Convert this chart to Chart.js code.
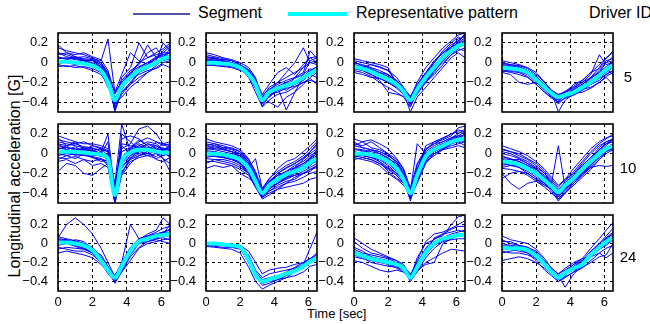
<!DOCTYPE html>
<html>
<head>
<meta charset="utf-8">
<script src="https://cdn.jsdelivr.net/npm/chart.js@4.4.1/dist/chart.umd.min.js"></script>
<style>
  body { margin: 0; background: #fff; }
  #wrap { position: relative; width: 650px; height: 324px; overflow: hidden;
          font-family: "Liberation Sans", Arial, sans-serif; color: #000; }
  #wrap canvas { position: absolute; }
  .txt { position: absolute; white-space: nowrap; line-height: 1; }
</style>
</head>
<body>
<div id="wrap">
  <div class="txt" style="left:133px;top:13px;width:57px;height:1.5px;background:#5252a6"></div>
  <div class="txt" style="left:198px;top:5px;font-size:16px">Segment</div>
  <div class="txt" style="left:288px;top:12px;width:59px;height:4px;background:#00ffff"></div>
  <div class="txt" style="left:356px;top:5px;font-size:16px">Representative pattern</div>
  <div class="txt" style="left:589px;top:5px;font-size:16px">Driver ID</div>
  <div class="txt" style="left:15px;top:176px;font-size:16px;transform:translate(-50%,-50%) rotate(-90deg)">Longitudinal acceleration [G]</div>
  <div class="txt" style="left:307px;top:307px;font-size:13px">Time [sec]</div>
</div>
<script>
// time axis shared by every trace [sec]
const times = [0, 0.5, 1, 1.5, 2, 2.5, 2.9, 3.3, 3.7, 4.2, 4.7, 5.2, 5.7, 6.1, 6.5];
const driverIds = ['5', '10', '24'];
const xTickValues = [0, 2, 4, 6];
const yTickValues = [-0.4, -0.2, 0, 0.2];

// driver 5
const pattern5a = [0.01,0.01,0.0,-0.01,-0.03,-0.08,-0.2,-0.38,-0.24,-0.15,-0.08,-0.04,0.0,0.04,0.06];
const segments5a = [
  [0.15,0.12,0.1,0.08,0.05,0.0,-0.12,-0.45,-0.3,-0.2,-0.1,-0.02,0.05,0.12,0.18],
  [0.05,0.04,0.06,0.03,0.02,-0.02,-0.15,-0.5,-0.28,-0.12,0.0,0.05,0.08,0.1,0.1],
  [-0.04,-0.03,-0.05,-0.04,-0.06,-0.1,-0.25,-0.35,-0.3,-0.22,-0.15,-0.1,-0.05,0.0,0.02],
  [0.1,0.08,0.05,0.06,0.04,0.02,0.24,-0.3,-0.2,-0.1,0.0,0.18,0.05,0.06,0.1],
  [0.02,0.0,-0.02,0.0,-0.02,-0.06,-0.18,-0.42,-0.15,-0.05,0.2,0.05,0.1,0.14,0.2],
  [-0.02,-0.04,-0.03,-0.05,-0.08,-0.12,-0.22,-0.4,-0.35,-0.25,-0.18,-0.1,-0.03,0.04,0.08],
  [0.08,0.1,0.06,0.04,0.03,0.0,-0.1,-0.3,-0.12,0.1,0.02,-0.02,0.02,0.2,0.12],
  [0.0,0.02,0.01,-0.02,-0.01,-0.05,-0.2,-0.48,-0.22,-0.16,-0.12,-0.08,-0.06,-0.02,-0.05],
  [0.04,0.05,0.03,0.02,0.0,-0.04,-0.16,-0.36,-0.26,-0.14,-0.05,0.0,0.04,0.08,0.06],
  [0.18,0.1,0.08,0.1,0.06,0.03,-0.08,-0.32,-0.18,-0.08,-0.02,0.1,0.15,0.05,0.14],
  [0.06,0.03,0.05,0.02,0.03,-0.02,-0.12,-0.42,-0.25,-0.1,-0.04,0.0,0.06,0.08,0.1],
  [-0.02,0.02,0.0,0.02,-0.02,-0.06,-0.22,-0.46,-0.32,-0.22,-0.1,-0.06,0.0,0.02,0.04],
  [0.1,0.06,0.04,0.02,0.02,-0.04,-0.14,-0.38,-0.2,-0.12,-0.06,-0.02,0.04,0.1,0.16]
];
const pattern5b = [0.0,0.0,-0.01,-0.02,-0.05,-0.12,-0.22,-0.38,-0.3,-0.26,-0.23,-0.2,-0.15,-0.11,-0.07];
const segments5b = [
  [0.08,0.06,0.04,0.02,-0.02,-0.08,-0.18,-0.35,-0.25,-0.2,-0.15,-0.1,-0.05,0.0,0.02],
  [0.02,0.0,0.0,-0.03,-0.06,-0.15,-0.3,-0.45,-0.38,-0.32,-0.3,-0.25,-0.2,-0.18,-0.2],
  [-0.02,-0.03,-0.04,-0.05,-0.08,-0.1,-0.2,-0.36,-0.4,-0.45,-0.35,-0.3,-0.22,-0.15,-0.1],
  [0.1,0.08,0.05,0.03,0.0,-0.05,-0.15,-0.4,-0.28,-0.2,-0.1,0.0,0.15,0.0,-0.02],
  [0.04,0.02,0.01,-0.01,-0.04,-0.1,-0.25,-0.42,-0.33,-0.28,-0.25,-0.15,-0.05,0.05,0.06],
  [0.0,-0.01,-0.02,-0.04,-0.06,-0.14,-0.26,-0.38,-0.35,-0.25,-0.28,-0.22,-0.18,-0.12,-0.15],
  [0.06,0.05,0.02,0.0,-0.03,-0.09,-0.2,-0.32,-0.22,-0.1,-0.05,-0.12,-0.02,0.05,0.0],
  [-0.01,-0.02,-0.02,-0.03,-0.07,-0.12,-0.24,-0.4,-0.32,-0.3,-0.26,-0.24,-0.2,-0.16,-0.22],
  [0.03,0.02,0.0,-0.01,-0.04,-0.11,-0.22,-0.37,-0.3,-0.25,-0.48,-0.3,-0.15,-0.08,-0.05],
  [0.05,0.04,0.03,0.02,-0.02,-0.07,-0.16,-0.33,-0.27,-0.22,-0.18,-0.15,-0.1,0.12,0.04],
  [0.06,0.04,0.02,0.0,-0.04,-0.12,-0.26,-0.4,-0.35,-0.28,-0.24,-0.2,-0.14,-0.08,-0.04],
  [-0.03,-0.02,-0.03,-0.04,-0.06,-0.13,-0.24,-0.44,-0.34,-0.28,-0.2,-0.22,-0.12,0.02,0.05],
  [0.02,0.03,0.01,-0.01,-0.03,-0.08,-0.18,-0.36,-0.28,-0.24,-0.2,-0.16,-0.12,-0.06,-0.1]
];
const pattern5c = [-0.04,-0.06,-0.09,-0.13,-0.17,-0.22,-0.29,-0.38,-0.27,-0.15,-0.05,0.05,0.12,0.17,0.19];
const segments5c = [
  [0.02,0.0,-0.02,-0.05,-0.08,-0.15,-0.25,-0.35,-0.2,-0.05,0.05,0.15,0.22,0.28,0.3],
  [-0.08,-0.1,-0.14,-0.2,-0.25,-0.3,-0.35,-0.45,-0.3,-0.18,-0.08,0.0,0.08,0.12,0.15],
  [-0.02,-0.05,-0.02,-0.04,-0.08,-0.2,-0.28,-0.4,-0.32,-0.2,-0.1,0.02,0.1,0.2,0.25],
  [-0.05,-0.08,-0.12,-0.18,-0.3,-0.32,-0.34,-0.36,-0.22,-0.1,0.0,0.1,0.18,0.22,0.28],
  [0.0,-0.03,-0.06,-0.1,-0.12,-0.18,-0.26,-0.38,-0.28,-0.2,-0.12,-0.02,0.08,0.14,0.12],
  [-0.1,-0.12,-0.15,-0.16,-0.2,-0.25,-0.3,-0.5,-0.35,-0.25,-0.15,-0.05,0.05,0.1,0.05],
  [-0.04,-0.06,-0.08,-0.1,-0.14,-0.18,-0.26,-0.34,-0.24,-0.12,0.0,0.12,0.2,0.26,0.22],
  [0.04,0.02,0.0,-0.02,-0.05,-0.22,-0.3,-0.42,-0.3,-0.16,-0.06,0.06,0.15,0.2,0.3],
  [-0.06,-0.08,-0.1,-0.14,-0.18,-0.24,-0.32,-0.4,-0.26,-0.14,-0.02,0.06,0.14,0.18,0.2],
  [-0.03,-0.05,-0.07,-0.12,-0.16,-0.2,-0.28,-0.36,-0.3,-0.2,-0.08,0.02,0.1,0.16,0.18],
  [-0.02,-0.04,-0.08,-0.12,-0.16,-0.22,-0.3,-0.42,-0.28,-0.14,-0.04,0.08,0.16,0.24,0.26],
  [-0.06,-0.08,-0.12,-0.16,-0.2,-0.26,-0.32,-0.38,-0.24,-0.1,0.02,0.1,0.16,0.2,0.22],
  [0.0,-0.02,-0.05,-0.08,-0.12,-0.2,-0.27,-0.44,-0.3,-0.18,-0.06,0.04,0.12,0.22,0.28]
];
const pattern5d = [-0.05,-0.06,-0.07,-0.1,-0.17,-0.25,-0.31,-0.35,-0.33,-0.3,-0.25,-0.2,-0.13,-0.07,-0.03];
const segments5d = [
  [0.0,-0.02,-0.03,-0.06,-0.12,-0.2,-0.28,-0.32,-0.3,-0.26,-0.2,-0.15,-0.05,0.05,0.1],
  [-0.08,-0.1,-0.12,-0.15,-0.22,-0.3,-0.36,-0.4,-0.36,-0.33,-0.28,-0.22,-0.18,-0.12,-0.08],
  [-0.03,-0.04,-0.05,-0.08,-0.14,-0.22,-0.3,-0.5,-0.38,-0.32,-0.22,-0.15,-0.1,0.0,0.02],
  [-0.1,-0.12,-0.2,-0.22,-0.2,-0.25,-0.3,-0.33,-0.32,-0.28,-0.27,-0.25,-0.2,-0.15,-0.22],
  [-0.04,-0.05,-0.06,-0.1,-0.18,-0.27,-0.33,-0.36,-0.3,-0.25,-0.2,-0.12,0.08,-0.02,0.0],
  [0.02,0.0,-0.02,-0.05,-0.1,-0.2,-0.28,-0.34,-0.35,-0.32,-0.28,-0.22,-0.15,-0.1,-0.05],
  [-0.06,-0.07,-0.08,-0.12,-0.2,-0.28,-0.34,-0.38,-0.3,-0.22,-0.18,-0.1,-0.02,0.04,0.12],
  [-0.05,-0.06,-0.08,-0.1,-0.16,-0.24,-0.3,-0.42,-0.35,-0.3,-0.26,-0.2,-0.16,-0.12,-0.08],
  [-0.02,-0.03,-0.05,-0.08,-0.14,-0.22,-0.29,-0.33,-0.29,-0.24,-0.18,-0.1,-0.06,0.02,0.04],
  [-0.07,-0.09,-0.1,-0.14,-0.22,-0.3,-0.35,-0.37,-0.34,-0.31,-0.3,-0.26,-0.2,-0.14,-0.1],
  [-0.04,-0.05,-0.07,-0.09,-0.15,-0.24,-0.32,-0.38,-0.33,-0.28,-0.22,-0.16,-0.1,-0.04,0.0],
  [-0.01,-0.02,-0.04,-0.08,-0.14,-0.24,-0.3,-0.36,-0.34,-0.3,-0.24,-0.18,-0.12,-0.06,-0.12],
  [-0.09,-0.08,-0.09,-0.12,-0.18,-0.26,-0.33,-0.4,-0.32,-0.27,-0.22,-0.16,-0.08,0.0,0.06]
];

// driver 10
const pattern10a = [0.02,0.02,0.02,0.01,0.0,-0.01,-0.05,-0.42,-0.08,0.01,0.04,0.04,0.02,0.01,0.01];
const segments10a = [
  [0.18,0.15,0.12,0.1,0.1,0.08,0.05,-0.35,0.1,0.08,0.06,0.05,0.08,0.05,0.04],
  [0.05,0.06,0.04,0.05,0.02,0.0,-0.02,-0.5,-0.15,-0.02,0.02,0.04,0.06,0.03,0.02],
  [-0.18,-0.1,-0.12,-0.2,-0.22,-0.15,-0.1,-0.45,-0.2,-0.05,0.0,-0.02,0.0,-0.05,-0.1],
  [0.1,0.08,0.1,0.07,0.06,0.02,0.2,-0.4,0.05,0.1,0.25,0.28,0.2,0.1,0.05],
  [0.0,-0.02,0.0,-0.01,-0.04,-0.06,-0.1,-0.44,-0.12,-0.06,-0.02,0.0,-0.03,0.02,-0.04],
  [0.12,0.1,0.08,0.06,0.05,0.04,0.02,-0.3,0.3,0.02,0.08,0.12,0.1,0.04,0.06],
  [-0.04,-0.05,-0.03,-0.06,-0.08,-0.05,-0.12,-0.48,-0.1,-0.02,0.05,0.1,0.05,0.0,-0.02],
  [0.06,0.04,0.02,0.03,0.0,-0.03,0.0,-0.38,-0.05,0.05,0.1,0.06,0.04,0.1,0.08],
  [0.02,0.0,0.02,0.0,-0.02,-0.02,-0.06,-0.42,-0.08,0.0,0.02,0.0,0.02,-0.05,-0.18],
  [0.08,0.06,0.05,0.04,0.03,0.0,-0.04,-0.36,0.15,0.18,0.15,0.08,0.02,0.0,0.01],
  [-0.02,0.0,-0.01,-0.02,-0.03,-0.05,-0.08,-0.46,-0.18,-0.08,-0.04,-0.02,-0.05,-0.02,0.0],
  [0.14,0.12,0.1,0.12,0.08,0.05,0.02,-0.32,0.02,0.06,0.12,0.16,0.12,0.08,0.1],
  [0.04,0.08,0.02,0.06,0.03,0.05,-0.02,-0.4,-0.1,0.04,0.08,0.05,0.03,0.06,0.02],
  [-0.06,-0.02,-0.05,0.0,-0.04,-0.08,-0.06,-0.47,-0.2,-0.04,0.02,0.06,0.02,-0.02,0.04],
  [0.1,0.04,0.07,0.02,0.04,0.0,0.12,-0.44,0.2,0.12,0.04,0.1,0.08,0.04,0.08],
  [0.0,0.04,-0.02,0.02,-0.01,0.02,-0.04,-0.5,-0.04,0.06,0.14,0.08,0.0,0.03,-0.03],
  [0.16,0.08,0.12,0.04,0.08,0.06,0.03,-0.38,0.08,0.0,0.06,0.02,0.12,0.1,0.12],
  [-0.08,-0.06,-0.1,-0.06,-0.12,-0.1,-0.14,-0.5,-0.22,-0.1,-0.02,0.02,-0.06,-0.08,-0.04]
];
const pattern10b = [0.0,0.0,-0.01,-0.03,-0.06,-0.15,-0.28,-0.4,-0.32,-0.26,-0.21,-0.18,-0.14,-0.09,-0.05];
const segments10b = [
  [0.15,0.12,0.1,0.08,0.04,-0.05,-0.2,-0.35,-0.25,-0.18,-0.12,-0.08,-0.02,0.05,0.12],
  [-0.05,-0.06,-0.08,-0.1,-0.14,-0.2,-0.32,-0.45,-0.38,-0.34,-0.3,-0.28,-0.24,-0.2,-0.18],
  [0.05,0.04,0.02,0.0,-0.02,-0.1,-0.24,-0.42,-0.3,-0.2,-0.15,-0.1,-0.05,0.0,0.05],
  [-0.15,-0.12,-0.14,-0.12,-0.2,-0.25,-0.3,-0.4,-0.35,-0.3,-0.25,-0.2,-0.15,-0.1,-0.08],
  [0.08,0.06,0.05,0.02,-0.02,-0.12,-0.26,-0.38,-0.28,-0.22,-0.2,-0.15,-0.1,-0.05,0.0],
  [0.02,0.0,-0.02,-0.05,-0.1,-0.18,-0.3,-0.44,-0.36,-0.3,-0.26,-0.22,-0.18,-0.14,-0.1],
  [0.0,0.02,0.0,-0.02,-0.05,-0.14,-0.05,-0.36,-0.26,-0.15,-0.08,-0.05,0.02,0.08,0.15],
  [-0.08,-0.08,-0.1,-0.12,-0.16,-0.22,-0.34,-0.44,-0.4,-0.36,-0.34,-0.32,-0.3,-0.26,-0.24],
  [0.1,0.08,0.06,0.04,0.0,-0.08,-0.22,-0.4,-0.32,-0.24,-0.18,-0.12,-0.08,-0.02,0.02],
  [0.03,0.02,0.0,-0.02,-0.04,-0.12,-0.28,-0.42,-0.34,-0.28,-0.22,-0.2,-0.16,-0.12,-0.06],
  [-0.02,-0.03,-0.04,-0.06,-0.08,-0.16,-0.26,-0.38,-0.3,-0.25,-0.2,-0.16,-0.12,-0.06,-0.02],
  [0.06,0.05,0.04,0.02,-0.04,-0.14,-0.25,-0.4,-0.34,-0.26,-0.22,-0.14,-0.06,0.02,0.08],
  [0.12,0.1,0.06,0.06,0.02,-0.08,-0.24,-0.43,-0.36,-0.3,-0.24,-0.18,-0.12,-0.04,0.04],
  [-0.1,-0.06,-0.06,-0.08,-0.12,-0.2,-0.3,-0.4,-0.3,-0.22,-0.18,-0.14,-0.1,-0.04,0.0],
  [0.04,0.08,0.04,0.02,0.0,-0.1,-0.22,-0.38,-0.3,-0.28,-0.24,-0.22,-0.2,-0.16,-0.12],
  [0.0,-0.02,-0.04,-0.06,-0.1,-0.2,-0.34,-0.46,-0.42,-0.36,-0.3,-0.24,-0.2,-0.16,-0.14],
  [0.08,0.1,0.08,0.05,0.02,-0.06,-0.18,-0.37,-0.28,-0.2,-0.14,-0.1,-0.04,0.02,0.1],
  [-0.04,-0.02,-0.03,-0.04,-0.1,-0.16,-0.28,-0.42,-0.38,-0.32,-0.28,-0.26,-0.2,-0.18,-0.12]
];
const pattern10c = [0.0,0.0,-0.01,-0.04,-0.08,-0.15,-0.26,-0.4,-0.22,-0.03,0.04,0.08,0.12,0.14,0.15];
const segments10c = [
  [0.15,0.12,0.14,0.1,0.05,-0.05,-0.15,-0.35,-0.1,0.05,0.1,0.15,0.2,0.22,0.2],
  [-0.02,-0.04,-0.06,-0.1,-0.15,-0.22,-0.3,-0.45,-0.3,-0.1,0.0,0.05,0.08,0.1,0.12],
  [0.05,0.04,0.02,0.0,-0.05,-0.1,-0.2,-0.42,-0.15,0.02,0.08,0.12,0.16,0.2,0.25],
  [0.0,0.02,0.0,-0.08,-0.18,-0.25,-0.3,-0.38,0.1,0.0,0.06,0.1,0.1,0.12,0.08],
  [0.08,0.06,0.04,0.0,-0.04,-0.12,-0.25,-0.48,-0.25,-0.05,0.02,0.08,0.14,0.16,0.15],
  [-0.04,-0.06,-0.08,-0.12,-0.2,-0.26,-0.32,-0.4,-0.28,-0.08,0.04,0.1,0.15,0.18,0.18],
  [0.02,0.0,0.04,0.02,-0.02,-0.08,-0.18,-0.36,-0.18,0.08,0.12,0.14,0.18,0.26,0.28],
  [0.1,0.08,0.12,0.06,0.0,-0.1,-0.22,-0.44,-0.24,-0.06,0.0,0.04,0.06,0.08,0.06],
  [-0.02,-0.02,-0.04,-0.06,-0.1,-0.18,-0.28,-0.42,-0.2,0.0,0.06,0.1,0.14,0.16,0.2],
  [0.04,0.03,0.0,-0.02,-0.06,-0.14,-0.24,-0.38,-0.2,-0.02,0.05,0.08,0.12,0.12,0.14],
  [0.08,0.12,0.06,0.04,0.0,-0.06,-0.16,-0.4,-0.12,0.04,0.1,0.12,0.16,0.18,0.22],
  [-0.04,0.0,-0.02,-0.06,-0.12,-0.2,-0.26,-0.44,-0.26,-0.06,0.02,0.06,0.1,0.14,0.16],
  [0.12,0.06,0.04,0.02,-0.02,-0.08,-0.2,-0.4,-0.16,0.04,0.12,0.16,0.2,0.24,0.22],
  [0.02,-0.02,-0.04,-0.08,-0.14,-0.2,-0.28,-0.46,-0.28,-0.08,-0.02,0.04,0.1,0.14,0.12],
  [-0.06,-0.04,-0.06,-0.1,-0.16,-0.22,-0.3,-0.42,-0.22,-0.02,0.06,0.1,0.12,0.18,0.16]
];
const pattern10d = [-0.08,-0.09,-0.11,-0.15,-0.2,-0.27,-0.33,-0.39,-0.32,-0.25,-0.16,-0.08,0.0,0.05,0.08];
const segments10d = [
  [0.05,0.02,0.0,-0.05,-0.1,-0.18,-0.26,-0.34,-0.26,-0.15,-0.05,0.05,0.12,0.16,0.18],
  [-0.15,-0.16,-0.18,-0.22,-0.28,-0.34,-0.4,-0.46,-0.38,-0.3,-0.22,-0.14,-0.06,0.0,0.04],
  [-0.05,-0.06,-0.08,-0.12,-0.16,-0.22,-0.3,-0.4,-0.3,-0.2,-0.1,0.0,0.08,0.12,0.14],
  [-0.2,-0.3,-0.36,-0.3,-0.28,-0.32,-0.36,-0.42,-0.36,-0.28,-0.2,-0.14,-0.12,-0.13,-0.12],
  [0.0,-0.02,-0.05,-0.1,-0.15,-0.24,-0.3,0.08,-0.35,-0.26,-0.18,-0.1,-0.02,0.06,0.1],
  [-0.1,-0.12,-0.14,-0.18,-0.24,-0.3,-0.38,-0.48,-0.4,-0.32,-0.24,-0.16,-0.06,0.02,0.06],
  [-0.12,-0.1,-0.12,-0.14,-0.18,-0.25,-0.32,-0.38,-0.28,-0.18,-0.08,0.02,0.1,0.15,0.2],
  [0.02,0.0,-0.04,-0.08,-0.14,-0.2,-0.28,-0.36,-0.3,-0.24,-0.14,-0.06,0.04,0.1,0.12],
  [-0.06,-0.08,-0.1,-0.16,-0.22,-0.3,-0.35,-0.42,-0.34,-0.27,-0.2,-0.12,-0.04,0.02,0.05],
  [-0.25,-0.2,-0.18,-0.2,-0.26,-0.3,-0.34,-0.4,-0.32,-0.24,-0.16,-0.08,0.0,0.06,0.1],
  [-0.03,-0.05,-0.08,-0.12,-0.18,-0.26,-0.34,-0.44,-0.36,-0.3,-0.22,-0.12,-0.02,0.04,0.08],
  [0.08,0.05,0.02,-0.02,-0.08,-0.16,-0.24,-0.32,-0.26,-0.2,-0.12,-0.04,0.06,0.12,0.15],
  [-0.02,-0.06,-0.06,-0.1,-0.16,-0.24,-0.32,-0.42,-0.34,-0.26,-0.16,-0.06,0.04,0.1,0.14],
  [-0.1,-0.1,-0.14,-0.2,-0.26,-0.32,-0.36,-0.44,-0.36,-0.28,-0.2,-0.1,0.0,0.06,0.1],
  [0.04,0.02,-0.02,-0.06,-0.12,-0.2,-0.3,-0.38,-0.32,-0.24,-0.16,-0.08,0.02,0.08,0.16],
  [-0.08,-0.12,-0.12,-0.16,-0.2,-0.28,-0.34,-0.4,-0.3,-0.22,-0.12,-0.04,0.04,0.1,0.12],
  [-0.14,-0.12,-0.1,-0.14,-0.22,-0.28,-0.36,-0.46,-0.4,-0.3,-0.2,-0.12,-0.02,0.04,0.06]
];

// driver 24
const pattern24a = [0.01,0.01,0.0,-0.02,-0.07,-0.18,-0.28,-0.36,-0.24,-0.08,0.02,0.05,0.08,0.09,0.1];
const segments24a = [
  [0.06,0.2,0.27,0.2,0.1,-0.05,-0.2,-0.35,-0.28,-0.1,0.05,0.08,0.1,0.12,0.15],
  [-0.1,-0.08,-0.1,-0.12,-0.15,-0.22,-0.3,-0.38,-0.3,-0.18,-0.05,0.0,0.02,0.04,0.05],
  [0.04,0.03,0.02,0.0,-0.04,-0.14,-0.24,-0.34,-0.2,0.2,0.05,0.08,0.1,0.12,0.14],
  [0.0,0.02,-0.02,-0.05,-0.1,-0.2,-0.3,-0.4,-0.28,-0.12,0.0,0.04,0.06,0.08,0.08],
  [0.05,0.04,0.0,-0.04,-0.1,-0.16,-0.26,-0.34,-0.22,-0.06,0.04,0.1,0.14,0.27,0.2],
  [-0.04,-0.06,-0.08,-0.08,-0.12,-0.2,-0.3,-0.38,-0.26,-0.1,0.0,0.02,0.05,0.06,0.04],
  [0.02,0.0,0.04,0.02,-0.06,-0.18,-0.26,-0.36,-0.24,-0.06,0.03,0.06,0.08,0.12,0.1],
  [-0.02,0.0,-0.03,-0.06,-0.08,-0.12,-0.24,-0.42,-0.3,-0.14,-0.04,0.02,0.04,0.02,0.0],
  [0.07,0.05,0.03,0.0,-0.05,-0.15,-0.28,-0.38,-0.25,-0.08,0.04,0.08,0.12,0.16,0.18],
  [0.03,0.02,0.0,-0.03,-0.08,-0.2,-0.3,-0.36,-0.2,-0.04,0.05,0.07,0.09,0.1,0.12],
  [0.02,0.04,0.01,-0.01,-0.06,-0.16,-0.26,-0.38,-0.26,-0.1,0.02,0.06,0.08,0.1,0.12],
  [-0.06,-0.04,-0.05,-0.06,-0.1,-0.2,-0.32,-0.4,-0.22,-0.06,0.02,0.04,0.06,0.1,0.2]
];
const pattern24b = [0.0,0.0,-0.01,-0.02,-0.04,-0.17,-0.33,-0.4,-0.38,-0.35,-0.32,-0.29,-0.24,-0.19,-0.15];
const segments24b = [
  [0.0,-0.01,-0.02,-0.03,-0.05,-0.2,-0.35,-0.44,-0.42,-0.38,-0.34,-0.3,-0.26,-0.2,-0.14],
  [-0.02,-0.03,-0.04,-0.04,-0.06,-0.12,-0.28,-0.36,-0.32,-0.3,-0.28,-0.26,-0.22,-0.18,-0.16],
  [0.01,0.0,0.0,-0.01,-0.02,-0.08,-0.2,-0.32,-0.28,-0.26,-0.25,-0.22,-0.2,-0.16,-0.1],
  [-0.03,-0.04,-0.05,-0.06,-0.1,-0.25,-0.4,-0.48,-0.44,-0.4,-0.36,-0.3,-0.22,-0.16,-0.12],
  [0.0,0.0,-0.02,-0.02,-0.03,-0.15,-0.3,-0.4,-0.38,-0.36,-0.32,-0.27,-0.22,-0.05,0.12],
  [-0.01,-0.02,-0.02,-0.04,-0.05,-0.2,-0.36,-0.42,-0.4,-0.38,-0.36,-0.34,-0.3,-0.24,-0.22],
  [0.01,0.0,-0.01,-0.02,-0.04,-0.14,-0.3,-0.38,-0.36,-0.34,-0.3,-0.25,-0.2,-0.16,-0.18]
];
const pattern24c = [-0.1,-0.13,-0.16,-0.18,-0.2,-0.22,-0.26,-0.36,-0.25,-0.09,0.0,0.05,0.07,0.09,0.09];
const segments24c = [
  [0.06,0.0,-0.06,-0.1,-0.14,-0.18,-0.22,-0.34,-0.2,-0.05,0.05,0.08,0.2,0.28,0.3],
  [-0.18,-0.2,-0.24,-0.28,-0.3,-0.28,-0.3,-0.38,-0.3,-0.15,-0.05,0.02,0.04,0.05,0.05],
  [-0.08,-0.12,-0.14,-0.16,-0.18,-0.22,-0.28,-0.36,-0.15,0.0,0.04,0.1,0.15,0.18,0.18],
  [-0.12,-0.15,-0.2,-0.22,-0.24,-0.25,-0.28,-0.4,-0.3,-0.2,-0.15,-0.1,-0.06,-0.07,-0.08],
  [0.02,-0.05,-0.1,-0.12,-0.15,-0.18,-0.24,-0.32,-0.22,-0.1,0.06,0.1,0.12,0.14,0.12],
  [-0.14,-0.16,-0.18,-0.2,-0.22,-0.24,-0.28,-0.38,-0.28,-0.22,-0.2,0.0,0.05,0.08,0.1],
  [-0.06,-0.1,-0.12,-0.14,-0.16,-0.2,-0.24,-0.34,-0.18,0.02,0.1,0.12,0.16,0.2,0.24],
  [-0.1,-0.12,-0.15,-0.17,-0.2,-0.23,-0.27,-0.37,-0.26,-0.12,-0.02,0.03,0.06,0.08,0.07],
  [-0.04,-0.08,-0.14,-0.18,-0.22,-0.26,-0.3,-0.36,-0.24,-0.06,0.02,0.06,0.1,0.12,0.14]
];
const pattern24d = [-0.04,-0.05,-0.05,-0.07,-0.13,-0.22,-0.3,-0.36,-0.31,-0.26,-0.22,-0.12,-0.04,0.02,0.06];
const segments24d = [
  [0.08,0.04,0.02,0.0,-0.06,-0.16,-0.26,-0.32,-0.28,-0.22,-0.16,-0.05,0.05,0.14,0.22],
  [-0.18,-0.16,-0.14,-0.16,-0.2,-0.26,-0.32,-0.38,-0.35,-0.3,-0.26,-0.18,-0.1,-0.05,-0.02],
  [0.0,-0.02,-0.03,-0.05,-0.1,-0.2,-0.28,-0.34,-0.46,-0.32,-0.24,-0.12,-0.02,0.05,0.1],
  [-0.06,-0.06,-0.08,-0.1,-0.15,-0.24,-0.32,-0.38,-0.32,-0.28,-0.25,-0.2,-0.14,-0.12,0.0],
  [-0.1,-0.08,-0.06,-0.1,-0.18,-0.28,-0.34,-0.4,-0.34,-0.24,-0.18,-0.08,0.0,0.06,0.12],
  [-0.02,-0.03,-0.04,-0.06,-0.12,-0.2,-0.28,-0.34,-0.3,-0.26,-0.2,-0.1,-0.02,0.04,0.08],
  [0.04,0.0,-0.02,-0.04,-0.08,-0.18,-0.26,-0.32,-0.26,-0.2,-0.16,-0.14,-0.06,-0.02,0.04],
  [-0.08,-0.1,-0.1,-0.12,-0.16,-0.24,-0.32,-0.4,-0.36,-0.3,-0.22,-0.14,-0.1,-0.15,-0.1],
  [-0.03,-0.04,-0.06,-0.06,-0.12,-0.22,-0.3,-0.36,-0.3,-0.24,-0.2,-0.1,0.0,0.08,0.16],
  [-0.05,-0.06,-0.05,-0.08,-0.14,-0.22,-0.3,-0.38,-0.32,-0.26,-0.22,-0.14,-0.06,0.0,0.04],
  [0.02,0.02,-0.02,-0.04,-0.1,-0.2,-0.28,-0.36,-0.3,-0.22,-0.18,-0.12,-0.04,0.06,0.1]
];

const panelRows = [
  [[pattern5a, segments5a], [pattern5b, segments5b], [pattern5c, segments5c], [pattern5d, segments5d]],
  [[pattern10a, segments10a], [pattern10b, segments10b], [pattern10c, segments10c], [pattern10d, segments10d]],
  [[pattern24a, segments24a], [pattern24b, segments24b], [pattern24c, segments24c], [pattern24d, segments24d]]
];

// axes boxes in page pixels
const colLeft = [58, 206, 354, 502];
const colWidth = [112, 111, 111, 111];
const rowTop = [33, 124, 215];
const rowHeight = [79, 79, 76];

Chart.defaults.font.family = "'Liberation Sans', Arial, sans-serif";
Chart.defaults.color = '#000';

const wrap = document.getElementById('wrap');

const boxPlugin = {
  id: 'box',
  afterDraw(chart) {
    const a = chart.chartArea, ctx = chart.ctx;
    ctx.save();
    ctx.strokeStyle = '#000';
    ctx.lineWidth = 1.6;
    ctx.strokeRect(a.left, a.top, a.right - a.left, a.bottom - a.top);
    ctx.restore();
  }
};

const toPoints = (vals) => times.map((t, i) => ({ x: t, y: vals[i] }));

// keep the plot box exactly where the layout puts it
const noPad = s => { s.paddingTop = 0; s.paddingBottom = 0; s.paddingLeft = 0; s.paddingRight = 0; };

function makePanel(r, c, pattern, segments) {
  const bottomRow = r === panelRows.length - 1;
  const padL = 46, padT = 3, padR = 3, padB = bottomRow ? 24 : 3;
  const w = colWidth[c] + padL + padR, h = rowHeight[r] + padT + padB;
  const cv = document.createElement('canvas');
  cv.width = w; cv.height = h;
  cv.style.width = w + 'px'; cv.style.height = h + 'px';
  cv.style.left = (colLeft[c] - padL) + 'px';
  cv.style.top = (rowTop[r] - padT) + 'px';
  wrap.appendChild(cv);

  const datasets = [{
    data: toPoints(pattern), borderColor: '#00ffff', borderWidth: 4,
    cubicInterpolationMode: 'monotone', clip: 0
  }];
  segments.forEach(s => datasets.push({
    data: toPoints(s), borderColor: '#0000ff', borderWidth: 1, clip: 0
  }));

  new Chart(cv, {
    type: 'line',
    data: { datasets },
    options: {
      responsive: false,
      animation: false,
      devicePixelRatio: 1,
      layout: { padding: { top: padT, right: padR, left: 0, bottom: 0 } },
      elements: { point: { radius: 0 }, line: { tension: 0 } },
      plugins: { legend: { display: false }, tooltip: { enabled: false } },
      scales: {
        x: {
          type: 'linear', min: 0, max: 6.5,
          afterBuildTicks: s => { s.ticks = xTickValues.map(v => ({ value: v })); },
          afterFit: s => { s.height = padB; noPad(s); },
          grid: { color: '#000', lineWidth: 1, drawTicks: false },
          border: { display: false, dash: [3, 3] },
          ticks: { display: bottomRow, padding: 4, font: { size: 13 } }
        },
        y: {
          min: -0.5, max: 0.3,
          afterBuildTicks: s => { s.ticks = yTickValues.map(v => ({ value: v })); },
          afterFit: s => { s.width = padL; noPad(s); },
          grid: { color: '#000', lineWidth: 1, drawTicks: false },
          border: { display: false, dash: [3, 3] },
          ticks: {
            padding: 10, font: { size: 13 },
            callback: v => v === 0 ? '0' : (v < 0 ? '\u2212' : '') + Math.abs(v).toFixed(1)
          }
        }
      }
    },
    plugins: [boxPlugin]
  });
}

panelRows.forEach((row, r) => row.forEach((p, c) => makePanel(r, c, p[0], p[1])));

// driver id labels at the right of each row
driverIds.forEach((id, r) => {
  const d = document.createElement('div');
  d.className = 'txt';
  d.textContent = id;
  d.style.fontSize = '15px';
  d.style.left = '628px';
  d.style.top = (rowTop[r] + rowHeight[r] / 2 + 3) + 'px';
  d.style.transform = 'translate(-50%, -50%)';
  wrap.appendChild(d);
});
</script>
</body>
</html>
